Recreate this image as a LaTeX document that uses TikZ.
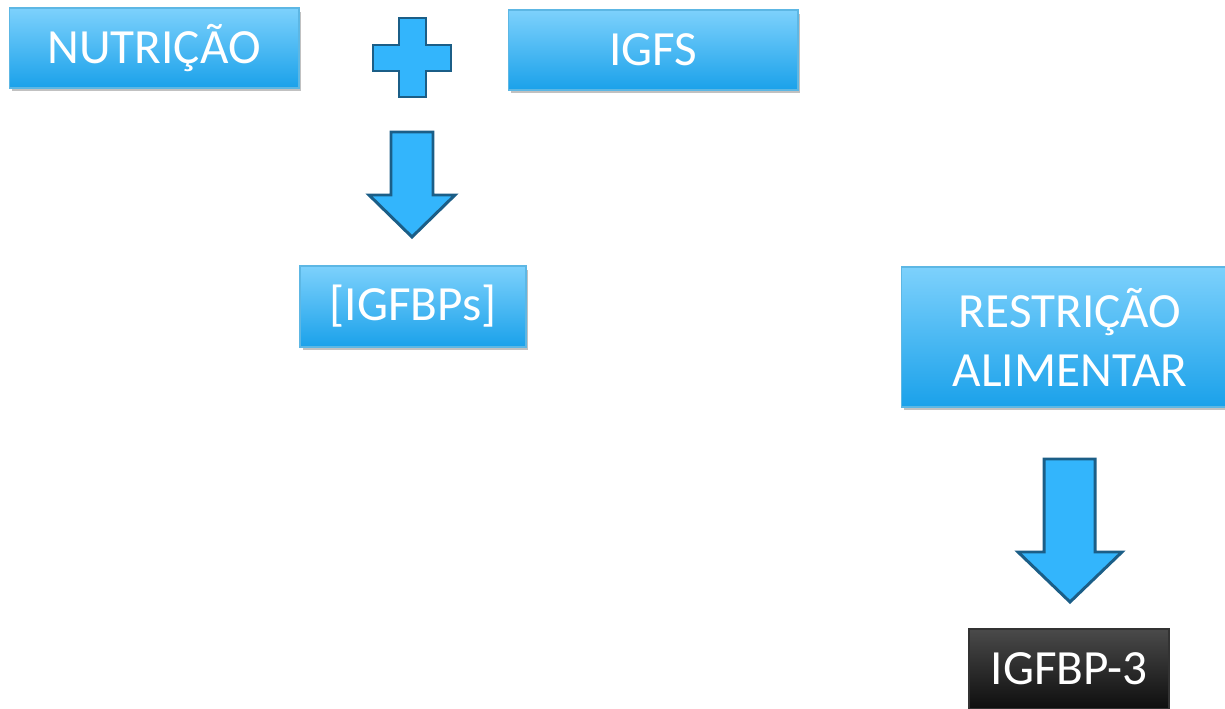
\documentclass[tikz,border=0pt]{standalone}
\usepackage{fontspec}
\setmainfont{Carlito}
\usetikzlibrary{shadows}
\definecolor{boxtop}{HTML}{7DD1FC}
\definecolor{boxbot}{HTML}{1AA1EA}
\definecolor{boxedge}{HTML}{5DB7E4}
\definecolor{arrfill}{HTML}{33B5FC}
\definecolor{arredge}{HTML}{1B5E87}
\definecolor{darktop}{HTML}{4A4A4A}
\definecolor{darkbot}{HTML}{0E0E0E}
\tikzset{
  bluebox/.style={rectangle, draw=boxedge, line width=0.6pt, top color=boxtop, bottom color=boxbot,
    text=white, font=\fontsize{28}{33.5}\selectfont, align=center, inner sep=0pt,
    drop shadow={shadow xshift=0.05cm, shadow yshift=-0.07cm, opacity=0.35, fill=black!70}},
  darkbox/.style={rectangle, draw=black!80, line width=0.6pt, top color=darktop, bottom color=darkbot,
    text=white, font=\fontsize{28}{33.5}\selectfont, align=center, inner sep=0pt},
  blockarrow/.style={fill=arrfill, draw=arredge, line width=1.7pt, line join=miter},
}
\begin{document}
\begin{tikzpicture}[x=0.02cm, y=-0.02cm]
\useasboundingbox (0,0) rectangle (1225,709);
\node[bluebox, minimum width=5.8cm, minimum height=1.6cm] (nut) at (154,48) {NUTRIÇÃO};
\node[bluebox, minimum width=5.8cm, minimum height=1.6cm] (igfs) at (653,50) {IGFS};
\node[bluebox, minimum width=4.52cm, minimum height=1.62cm] (igfbps) at (413,306.5) {[IGFBPs]};
\node[bluebox, minimum width=6.76cm, minimum height=2.8cm] (rest) at (1070,337) {RESTRIÇÃO\\ALIMENTAR};
\node[darkbox, minimum width=4cm, minimum height=1.6cm] (igfbp3) at (1069,669) {IGFBP-3};
% plus sign
\draw[blockarrow] (399,18) -- (426,18) -- (426,45) -- (451,45) -- (451,71) -- (426,71) -- (426,97)
  -- (399,97) -- (399,71) -- (373,71) -- (373,45) -- (399,45) -- cycle;
% arrow 1
\draw[blockarrow] (391,132) -- (433,132) -- (433,195) -- (455,195) -- (412,237) -- (369,195) -- (391,195) -- cycle;
% arrow 2
\draw[blockarrow] (1044,459) -- (1095,459) -- (1095,552) -- (1122,552) -- (1070,602) -- (1018,552) -- (1044,552) -- cycle;
\end{tikzpicture}
\end{document}
